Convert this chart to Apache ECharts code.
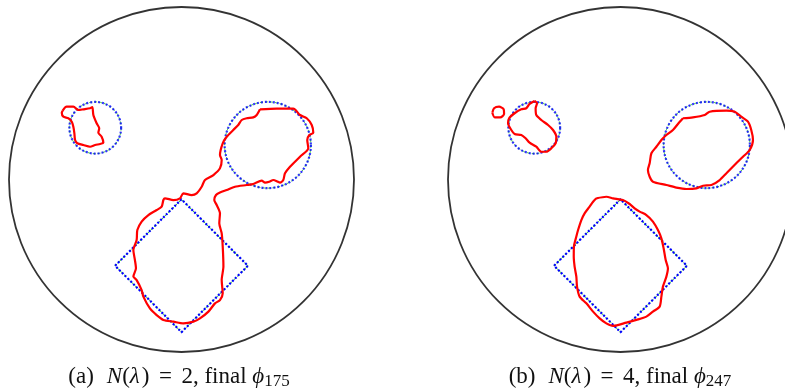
<!DOCTYPE html>
<html><head><meta charset="utf-8">
<script src="https://cdn.jsdelivr.net/npm/echarts@6/dist/echarts.min.js"></script>
<style>html,body{margin:0;padding:0;background:#fff}#c{width:785px;height:391px}</style>
</head><body><div id="c"></div>
<script>
// ---- data (domain units: outer domain is the unit disk) ----
const captionTags = ['(a)', '(b)'];
const nLambda = [2, 4];
const finalIter = ['175', '247'];

const domainCenter = [0, 0];
const domainRadius = 1;

const trueCircleCenters = [[-0.5, 0.3], [0.5, 0.2]];
const trueCircleRadii = [0.15, 0.25];
const trueDiamond = [[-0.385, -0.5], [0, -0.115], [0.385, -0.5], [0, -0.885], [-0.385, -0.5]];

// reconstructed boundaries, panel (a)
const redA1 = [[-0.689,0.399],[-0.666,0.422],[-0.627,0.422],[-0.598,0.403],[-0.569,0.407],[-0.530,0.413],[-0.517,0.419],[-0.511,0.374],[-0.492,0.326],[-0.477,0.297],[-0.482,0.271],[-0.463,0.248],[-0.453,0.213],[-0.472,0.206],[-0.501,0.200],[-0.530,0.190],[-0.569,0.200],[-0.604,0.210],[-0.617,0.229],[-0.621,0.268],[-0.627,0.306],[-0.636,0.335],[-0.656,0.355],[-0.685,0.364],[-0.694,0.387],[-0.689,0.399]];
const redA2 = [[0.455,0.407],[0.552,0.411],[0.648,0.411],[0.687,0.374],[0.726,0.355],[0.755,0.316],[0.764,0.271],[0.741,0.258],[0.729,0.229],[0.735,0.181],[0.687,0.132],[0.629,0.074],[0.600,0.036],[0.590,-0.003],[0.571,-0.018],[0.532,-0.003],[0.509,-0.013],[0.484,-0.018],[0.465,-0.007],[0.416,-0.026],[0.378,-0.032],[0.310,-0.042],[0.262,-0.061],[0.223,-0.076],[0.200,-0.090],[0.190,-0.119],[0.204,-0.148],[0.223,-0.196],[0.219,-0.254],[0.233,-0.312],[0.239,-0.389],[0.243,-0.505],[0.233,-0.583],[0.239,-0.660],[0.223,-0.699],[0.194,-0.718],[0.156,-0.766],[0.107,-0.805],[0.069,-0.824],[0.011,-0.834],[-0.047,-0.824],[-0.105,-0.814],[-0.144,-0.786],[-0.183,-0.747],[-0.221,-0.679],[-0.231,-0.641],[-0.260,-0.583],[-0.279,-0.563],[-0.264,-0.515],[-0.270,-0.467],[-0.279,-0.409],[-0.260,-0.351],[-0.256,-0.293],[-0.231,-0.244],[-0.192,-0.206],[-0.144,-0.177],[-0.115,-0.157],[-0.105,-0.119],[-0.096,-0.109],[-0.047,-0.119],[-0.009,-0.109],[0.011,-0.080],[0.059,-0.090],[0.088,-0.080],[0.117,-0.042],[0.136,-0.003],[0.185,0.026],[0.223,0.065],[0.233,0.113],[0.223,0.142],[0.239,0.210],[0.262,0.248],[0.300,0.287],[0.329,0.316],[0.349,0.345],[0.378,0.355],[0.416,0.360],[0.436,0.374],[0.455,0.407]];

// reconstructed boundaries, panel (b)
const redB1 = [[-0.743,0.387],[-0.733,0.413],[-0.704,0.422],[-0.677,0.407],[-0.675,0.380],[-0.697,0.360],[-0.729,0.360],[-0.743,0.387]];
const redB2 = [[-0.498,0.455],[-0.527,0.438],[-0.546,0.413],[-0.575,0.407],[-0.614,0.384],[-0.646,0.355],[-0.652,0.326],[-0.633,0.287],[-0.614,0.264],[-0.575,0.258],[-0.550,0.239],[-0.527,0.214],[-0.488,0.190],[-0.459,0.161],[-0.430,0.161],[-0.401,0.181],[-0.376,0.210],[-0.372,0.248],[-0.391,0.287],[-0.420,0.316],[-0.459,0.345],[-0.488,0.374],[-0.492,0.413],[-0.484,0.442],[-0.498,0.455]];
const redB3 = [[0.362,0.355],[0.420,0.360],[0.488,0.374],[0.517,0.393],[0.614,0.399],[0.662,0.393],[0.700,0.364],[0.739,0.335],[0.758,0.287],[0.768,0.229],[0.749,0.171],[0.710,0.132],[0.671,0.094],[0.614,0.036],[0.575,-0.003],[0.527,-0.032],[0.478,-0.036],[0.440,-0.051],[0.382,-0.055],[0.324,-0.047],[0.266,-0.032],[0.188,-0.013],[0.169,0.016],[0.159,0.055],[0.169,0.094],[0.179,0.152],[0.208,0.190],[0.237,0.229],[0.266,0.258],[0.304,0.287],[0.333,0.322],[0.362,0.355]];
const redB4 = [[-0.140,-0.109],[-0.082,-0.100],[-0.043,-0.109],[0.014,-0.119],[0.053,-0.142],[0.082,-0.167],[0.111,-0.186],[0.150,-0.206],[0.188,-0.244],[0.217,-0.293],[0.237,-0.341],[0.250,-0.399],[0.262,-0.467],[0.275,-0.515],[0.266,-0.563],[0.246,-0.621],[0.237,-0.679],[0.227,-0.737],[0.188,-0.766],[0.150,-0.795],[0.092,-0.814],[0.034,-0.830],[-0.043,-0.849],[-0.082,-0.834],[-0.121,-0.805],[-0.159,-0.766],[-0.198,-0.718],[-0.237,-0.679],[-0.252,-0.621],[-0.256,-0.563],[-0.266,-0.505],[-0.271,-0.447],[-0.270,-0.389],[-0.256,-0.331],[-0.246,-0.293],[-0.227,-0.235],[-0.208,-0.196],[-0.179,-0.157],[-0.159,-0.129],[-0.140,-0.109]];

const redCurves = [[redA1, redA2], [redB1, redB2, redB3, redB4]];

// ---- chart ----
const BLUE = '#0000ff', GREEN = '#1fbf1f', RED = '#ff0000';
const W = 785;
const chart = echarts.init(document.getElementById('c'), null, {renderer: 'canvas'});

const PANEL = 345;                // full panel size in px
const bLeft = 448;
const bWidth = W - bLeft;         // panel (b) is cut at the right page edge
const grids = [
  {left: 9, top: 7, width: PANEL, height: PANEL},
  {left: bLeft, top: 7, width: bWidth, height: PANEL}
];
const xMaxB = -1 + 2 * bWidth / PANEL;

function axis(g, max) { return {type: 'value', gridIndex: g, min: -1, max: max, show: false}; }

const FONT = 'Liberation Serif';
const rich = {
  r: {fontFamily: FONT, fontSize: 23, lineHeight: 26, fill: '#111'},
  i: {fontFamily: FONT, fontSize: 23, lineHeight: 26, fontStyle: 'italic', fill: '#111'},
  g: {width: 13, lineHeight: 26},
  h: {width: 2, lineHeight: 26},
  e: {fontFamily: FONT, fontSize: 23, lineHeight: 26, width: 32, align: 'center', fill: '#111'},
  s: {fontFamily: FONT, fontSize: 17, lineHeight: 13, verticalAlign: 'bottom', fill: '#111'}
};
function caption(i, cx) {
  return {
    type: 'text', x: cx, y: 377, z: 10,
    style: {
      text: '{r|' + captionTags[i] + '}{g|}{i|N}{r|(}{i|λ}{h|}{r|)}{e|=}{r|' + nLambda[i] + ', final }{i|ϕ}{s|' + finalIter[i] + '}',
      align: 'center', verticalAlign: 'middle', rich: rich
    }
  };
}

chart.setOption({
  animation: false,
  backgroundColor: '#fff',
  grid: grids,
  xAxis: [axis(0, 1), axis(1, xMaxB)],
  yAxis: [axis(0, 1), axis(1, 1)],
  graphic: [caption(0, 179), caption(1, 620)],
  series: []
});

function diam(g, r) {
  const p0 = chart.convertToPixel({gridIndex: g}, [0, 0]);
  const p1 = chart.convertToPixel({gridIndex: g}, [r, 0]);
  return 2 * Math.abs(p1[0] - p0[0]);
}

const series = [];
for (let g = 0; g < 2; g++) {
  series.push({
    type: 'scatter', xAxisIndex: g, yAxisIndex: g, z: 1, silent: true,
    data: [domainCenter], symbol: 'circle', symbolSize: diam(g, domainRadius),
    itemStyle: {color: 'rgba(0,0,0,0)', borderColor: '#000', borderWidth: 1.8}
  });
  for (let k = 0; k < trueCircleCenters.length; k++) {
    series.push({
      type: 'scatter', xAxisIndex: g, yAxisIndex: g, z: 2, silent: true,
      data: [trueCircleCenters[k]], symbol: 'circle', symbolSize: diam(g, trueCircleRadii[k]),
      itemStyle: {color: 'rgba(0,0,0,0)', borderColor: GREEN, borderWidth: 1, borderType: [3, 2]}
    });
    series.push({
      type: 'scatter', xAxisIndex: g, yAxisIndex: g, z: 3, silent: true,
      data: [trueCircleCenters[k]], symbol: 'circle', symbolSize: diam(g, trueCircleRadii[k]),
      itemStyle: {color: 'rgba(0,0,0,0)', borderColor: BLUE, borderWidth: 2.2, borderType: [2, 2]}
    });
  }
  series.push({
    type: 'line', xAxisIndex: g, yAxisIndex: g, z: 2, silent: true, showSymbol: false,
    data: trueDiamond, lineStyle: {color: GREEN, width: 1, type: [3, 2]}
  });
  series.push({
    type: 'line', xAxisIndex: g, yAxisIndex: g, z: 3, silent: true, showSymbol: false,
    data: trueDiamond, lineStyle: {color: BLUE, width: 2.2, type: [2, 2], join: 'round'}
  });
  redCurves[g].forEach(c => series.push({
    type: 'line', xAxisIndex: g, yAxisIndex: g, z: 4, silent: true, showSymbol: false,
    smooth: 0.25, data: c, lineStyle: {color: RED, width: 2.2}
  }));
}
chart.setOption({series: series});
</script></body></html>
